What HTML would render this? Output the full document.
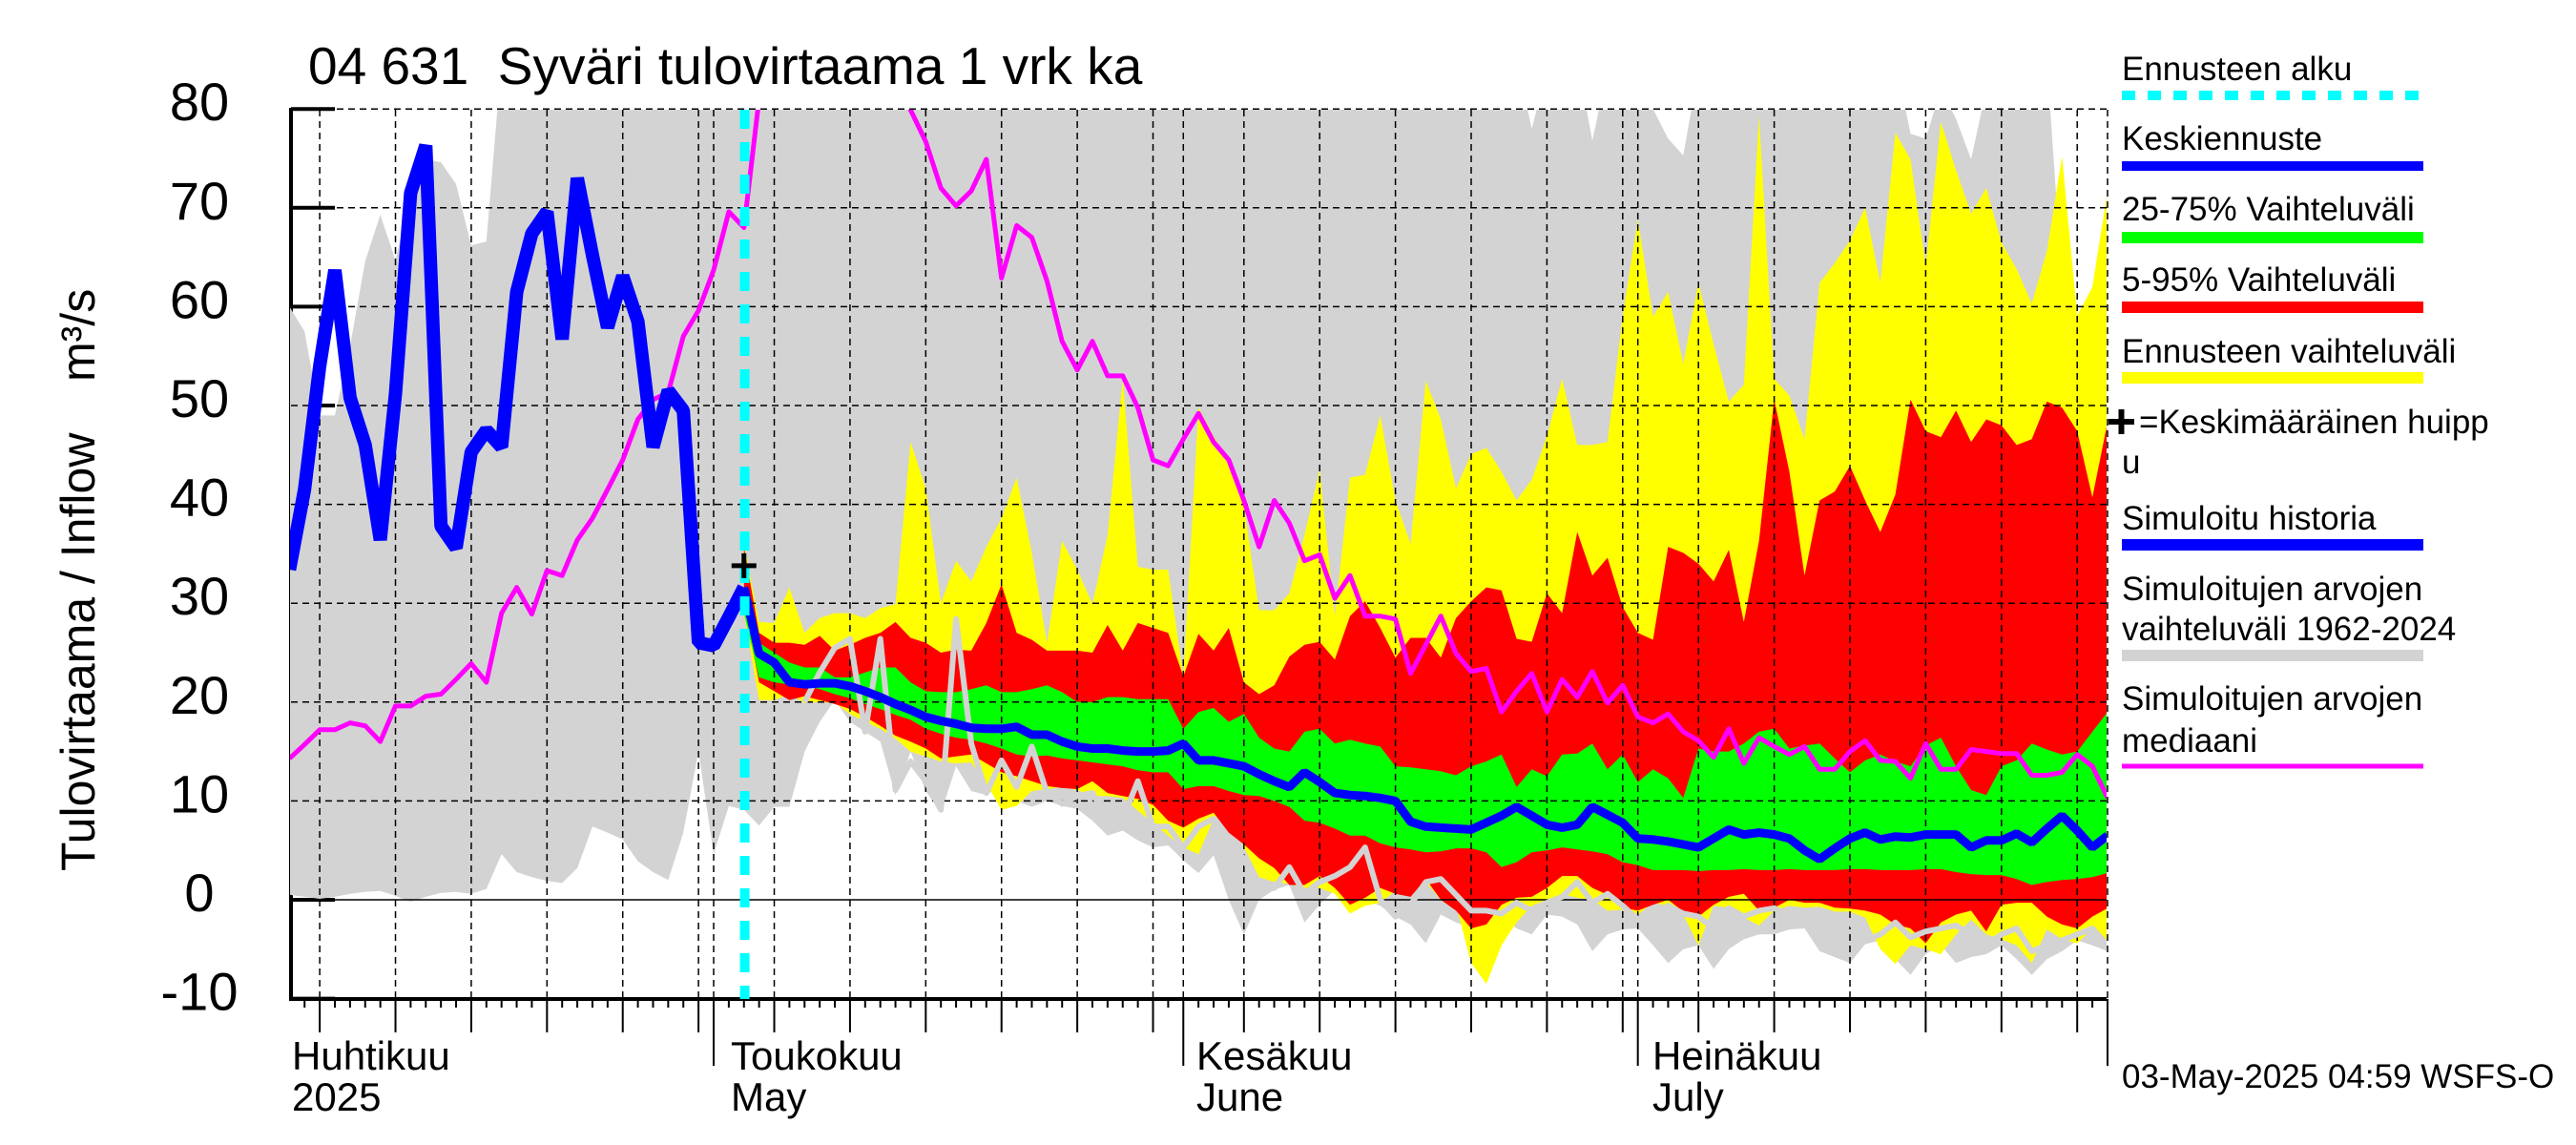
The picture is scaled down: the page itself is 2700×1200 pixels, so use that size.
<!DOCTYPE html>
<html>
<head>
<meta charset="utf-8">
<style>
html,body{margin:0;padding:0;background:#fff;}
svg{display:block;font-family:"Liberation Sans",Arial,sans-serif;}
</style>
</head>
<body>
<svg id="chart" xmlns="http://www.w3.org/2000/svg" width="2700" height="1200" viewBox="0 0 2700 1200">
  <defs>
    <clipPath id="plotclip"><rect x="304" y="115" width="1904" height="932"/></clipPath>
  </defs>
  <rect x="0" y="0" width="2700" height="1200" fill="#fff"/>
  <text x="323" y="88" font-size="55" xml:space="preserve">04 631  Syväri tulovirtaama 1 vrk ka</text>
  <g>
    <text transform="translate(99,913) rotate(-90)" font-size="50">Tulovirtaama / Inflow</text>
    <text transform="translate(99,400) rotate(-90)" font-size="50">m³/s</text>
  </g>
  <g id="axes"></g>
  <g id="fills" clip-path="url(#plotclip)"></g>
  <g id="grid"></g>
  <g id="lines" clip-path="url(#plotclip)"></g>
  <g id="xlabels">
    <text x="306" y="1121" font-size="42">Huhtikuu</text>
    <text x="306" y="1164" font-size="42">2025</text>
    <text x="766" y="1121" font-size="42">Toukokuu</text>
    <text x="766" y="1164" font-size="42">May</text>
    <text x="1254" y="1121" font-size="42">Kesäkuu</text>
    <text x="1254" y="1164" font-size="42">June</text>
    <text x="1732" y="1121" font-size="42">Heinäkuu</text>
    <text x="1732" y="1164" font-size="42">July</text>
  </g>
  <g id="legend" font-size="35">
    <g>
      <text x="2224" y="84">Ennusteen alku</text>
      <line x1="2224" y1="100" x2="2540" y2="100" stroke="#00ffff" stroke-width="10" stroke-dasharray="14 13"/>
    </g>
    <g>
      <text x="2224" y="157">Keskiennuste</text>
      <line x1="2224" y1="174" x2="2540" y2="174" stroke="#0000ff" stroke-width="10"/>
    </g>
    <g>
      <text x="2224" y="231">25-75% Vaihteluväli</text>
      <line x1="2224" y1="249" x2="2540" y2="249" stroke="#00ff00" stroke-width="12"/>
    </g>
    <g>
      <text x="2224" y="305">5-95% Vaihteluväli</text>
      <line x1="2224" y1="322" x2="2540" y2="322" stroke="#ff0000" stroke-width="12"/>
    </g>
    <g>
      <text x="2224" y="380">Ennusteen vaihteluväli</text>
      <line x1="2224" y1="396" x2="2540" y2="396" stroke="#ffff00" stroke-width="12"/>
    </g>
    <g>
      <path d="M2210,442 H2237 M2223.5,429 V455" stroke="#000" stroke-width="6"/>
      <text x="2242" y="454">=Keskimääräinen huipp</text>
      <text x="2224" y="496">u</text>
    </g>
    <g>
      <text x="2224" y="555">Simuloitu historia</text>
      <line x1="2224" y1="571" x2="2540" y2="571" stroke="#0000ff" stroke-width="12"/>
    </g>
    <g>
      <text x="2224" y="629">Simuloitujen arvojen</text>
      <text x="2224" y="671">vaihteluväli 1962-2024</text>
      <line x1="2224" y1="687" x2="2540" y2="687" stroke="#d3d3d3" stroke-width="12"/>
    </g>
    <g>
      <text x="2224" y="744">Simuloitujen arvojen</text>
      <text x="2224" y="788">mediaani</text>
      <line x1="2224" y1="803" x2="2540" y2="803" stroke="#ff00ff" stroke-width="5"/>
    </g>
  </g>
  <text x="2224" y="1140" font-size="35">03-May-2025 04:59 WSFS-O</text>
</svg>
<script>
// ---- data (days since 1 Apr 2025; values in m3/s) ----
const histStart = 2;
const fcStart = 32;
const yTicks = [-10, 0, 10, 20, 30, 40, 50, 60, 70, 80];
const monthStarts = [0, 30, 61, 91, 122];
const gridDays = [4, 9, 14, 19, 24, 29, 34, 39, 44, 49, 54, 59, 65, 70, 75, 80, 85, 90, 95, 100, 105, 110, 115, 120];
const peakDay = [32];
const peakValue = [33.8];

const history = [33.4,41.5,54,63.7,50.8,46,36.4,51.2,71.5,76.3,37.8,35.6,45.3,47.5,45.8,61.5,67.4,69.6,56.7,73,65.2,57.9,63.1,58.5,45.8,51.5,49.5,26,25.7,28.6,31.6];

const median = [14.3,15.7,17.2,17.2,17.9,17.6,16,19.6,19.6,20.6,
20.8,22.3,23.9,22,29,31.6,28.9,33.3,32.8,36.4,
38.6,41.5,44.5,48.6,50.6,51.3,57,59.6,63.7,69.6,
68,81,86,90,93,95,95,93,90,86,
82,79.9,76.7,72,70.2,71.7,74.9,62.9,68.2,67,
62.6,56.5,53.6,56.5,53,53,49.8,44.5,43.9,46.6,
49.2,46.3,44.5,40.4,35.7,40.4,38.1,34.3,34.9,30.5,
32.8,28.7,28.7,28.4,22.9,25.8,28.7,24.9,23.1,23.4,
19,21.1,22.9,19,22.3,20.5,23.1,19.9,21.7,18.5,
17.9,18.8,17,16.1,14.4,17.3,13.8,16.4,15.5,14.7,
15.5,13.2,13.2,15,16.1,14.1,14,12.3,15.8,13.2,
13.2,15.2,15,14.8,14.8,12.6,12.6,12.9,14.7,13.5,10.3];

const grayTop = [60,57.5,49,49,56,64.6,69.3,64.7,71.4,74.9,74.6,72.4,66.2,66.6,
85,85,85,85,85,85,85,85,85,85,85,85,85,85,85,85,85,85,85,85,85,85,85,85,85,85,
85,85,85,85,85,85,85,85,85,85,85,85,85,85,85,85,85,85,85,85,85,85,85,85,85,85,
85,85,85,85,85,85,85,85,85,85,85,85,85,85,85,85,
78,84,84,85,76.8,84,85,85,80,77,75.3,84,
85,85,85,85,85,85,85,85,85,85,85,85,85,
77.5,77,82,79,74.9,82,85,85,85,85];
const grayBottom = [0.5,0.3,0.1,0.3,0.6,0.8,0.9,0.4,-0.2,0.3,
0.7,0.8,0.6,1.1,4.6,2.8,2.3,1.9,1.7,3.2,
7.4,6.8,6.1,3.9,2.8,2,6.8,15,4.6,9.5,
9.1,7.5,9.4,9.4,15,18,20.2,18,17,16,
10.6,15,11,8.8,13.5,11,10.6,11.6,10,9.4,
10,9.5,9.2,8,6.5,7,6,5.3,5.5,4,
2.7,4.5,0,-3.5,0,1,1.5,-2.3,-0.5,1,
-0.5,0,-0.6,-1.7,-2.5,-4.4,-1.5,-2.3,-2.9,-2.6,
-1.7,-2.9,-3.5,-1.5,-1.7,-2.5,-5.2,-3.5,-3,-2.9,
-4.6,-6.4,-5,-4.6,-7,-5,-4,-3.5,-3.5,-3,
-2.9,-5.2,-5.8,-6.4,-4.5,-4.1,-6,-7.6,-5.5,-4.6,
-6.4,-5.8,-5.5,-4.6,-6,-7.6,-6,-5.2,-4.1,-4.6,-5.2];

const ensMax = [36,28.1,28,31.6,27,28.5,29,29,28.5,29.5,
29.9,46.3,41.6,30,34.3,32.2,35.7,38.6,42.7,35.1,
26,36.3,33.4,29.9,36.9,52.7,33.7,33.4,33.4,22.6,
49.8,46.9,44.5,39.8,29.3,29.3,31,36.9,43.5,28.7,
42.7,43,49,40.4,36,52.5,48.6,41.6,45.1,45.7,
43.3,40.4,42.5,46.9,52.7,46,46,46.3,59.1,68.8,
59,61.5,54.2,62.4,56.2,50.4,52.1,79.3,52.7,51,
46.6,62.4,64.4,66.7,70,62.4,77.6,74.9,64.1,78.7,
73.8,69.4,72,66.5,63.8,60.3,65.6,75.2,59.1,62,71.7];
const ensMin = [29,20.2,20.2,20.8,19.9,20,19.9,18.8,18,17.3,
16.3,15,14.5,14,13.8,13.9,11.8,9.1,9.5,11,
11.2,11.4,11.1,10.5,10.5,10.3,9,7.8,6.5,5.3,
4.6,8.2,8.8,5.3,2.3,1.8,1.6,1.2,1.2,0.6,
-1.4,-0.6,-0.3,0.9,1.8,1.8,0,-0.5,-6.4,-8.5,
-4.6,-2.3,-0.6,0,0.6,0.2,0,-1.1,-1,-1.5,
-0.3,-0.6,-1.5,-4.6,-0.6,-0.8,-1.8,-2.6,-1.1,-0.6,
-0.8,-0.7,-1.2,-1.2,-1.8,-5,-6.5,-4.6,-5,-5.5,
-3.5,-2,-3.5,-4,-4.6,-6.4,-3,-4,-4.4,-2.9,-4.1];

const p95 = [35.7,27,26,26,25.8,26.7,25.2,25.8,26.5,27,
28.1,26.5,26,25,25.3,25.2,28,31.9,27,26.3,
25.2,25.2,25.2,25,27.8,25.2,28,27.5,27,22.6,
26.9,25.2,27.5,22,20.8,21.7,24.6,25.8,26.1,24.3,
28.7,30.2,27.5,24.5,26.5,26.5,24.5,28.5,30.2,31.6,
31.3,26.4,26.1,31,29,37.2,32.8,34.6,29.6,27,
26.3,35.7,35.1,34,32.2,35.4,28.1,36.3,50.6,43.3,
32.8,40.4,41.3,43.9,40.4,37.2,41,50.6,47.4,46.8,
49.5,46.3,48.6,48,46,46.6,50.4,49.8,47.4,40.7,48.3];
const p5 = [30,22,21.1,20.2,20.6,20.2,19.8,19.3,18.5,17.6,
16.6,16,15.3,14.3,14.5,14.7,13.8,12.9,12.5,12,
11.5,11.3,11.2,12,10.8,10.5,10.2,9.6,8,7.3,
8.2,8.8,6.8,5.6,4.2,3.2,1.5,1.5,2.4,1.2,
-0.5,0.2,1.2,0.6,0.3,2.1,0,-1.1,-2.9,-2.5,
-0.5,0.2,0.3,1.2,2.4,2.4,1.2,0.5,-0.8,-1.1,
-0.5,0,-1.2,-1.7,-0.5,0.3,0.6,-1.1,-0.8,0,
-0.3,-0.3,-0.8,-0.9,-1.1,-1.5,-2.5,-2.9,-4.4,-2.3,
-1.5,-1.1,-3.2,-0.5,-0.3,-0.3,-1.7,-2.5,-2.9,-1.7,-0.85];

const p75 = [31,26,25,24,23.5,23.5,22.5,22.5,23,23.5,
23.5,22,21.1,21,21,21.3,21.7,21,21,21.3,
21.7,21,20,20,20.5,20.5,20.3,20.3,20.3,17.3,
19,19.4,18,18.8,16.4,15.3,15,17,17.3,15.8,
16.2,15.8,15.5,13.5,13.4,13.2,13,12.6,13.5,14,
14.7,11.4,13.2,12.5,14.7,14.8,15.8,13.2,14.7,11.9,
13.2,12.3,10.3,15.3,15,15,15.8,17,17.3,15.3,
15.6,15.8,14.3,12.9,14.1,14.7,14,13.5,15.6,16.4,
13.5,11.1,10.6,13.5,14.1,15.8,15.2,14.7,15,17,19];
const p25 = [29,22.5,22,21.8,21.7,21.3,20.8,20.4,19.8,19.3,
18.7,18.2,17.3,16.8,16.4,16.2,15.8,15.3,14.7,14.5,
14.6,14.3,14.1,13.9,13.7,13.5,13.1,12.9,12.9,11.2,
11.5,11.5,11,10.6,10.5,10,9.4,8,7.8,7.2,
6.5,6.5,5.7,5.3,5.1,4.8,4.9,5.2,5.2,4.8,
3.3,3.8,4.8,5,5.3,5.1,4.9,4.6,3.8,3.5,
3,3,3,2.9,3,3,3.1,3,3,3.1,
3,3,3,3.1,3.1,3,3,3,3.1,3.1,
2.8,2.6,2.5,2.5,2.1,1.5,1.8,2,2.1,2.3,2.7];

const meanForecast = [31.6,24.9,24,22,21.8,21.9,21.9,21.6,21.1,20.5,
19.8,19.2,18.5,18.1,17.8,17.4,17.3,17.3,17.5,16.7,
16.7,16,15.5,15.3,15.3,15.1,15,15,15.1,15.8,
14.1,14.1,13.8,13.5,12.7,12,11.4,12.9,11.9,10.8,
10.6,10.5,10.3,10,7.9,7.4,7.3,7.2,7.1,7.8,
8.5,9.4,8.5,7.6,7.3,7.6,9.4,8.6,7.8,6.2,
6.1,5.9,5.6,5.3,6.2,7.1,6.6,6.8,6.6,6.2,
5,4.1,5.2,6.2,6.8,6.1,6.4,6.3,6.6,6.6,
6.6,5.3,6,6,6.7,5.8,7.2,8.5,7,5.3,6.5];

const pastYearStart = 36;
const pastYear = [20,23,25.5,26.4,17,26.4,11.1,14,12,9.1,
28.4,15.8,10.8,14.1,11.4,15.5,10.8,9.7,10.5,10.8,
8.2,8.2,12,7.4,7.4,5.3,7.4,8.2,6,4.1,
1.2,1.2,3.3,0.6,1.8,2.4,3.3,5.3,0,-1.7,
-0.5,1.8,2.1,0.5,-1.1,-1.1,-1.4,-0.3,-1.1,-0.3,
0.3,1.8,-0.3,0.6,-0.6,-2,-1.7,-0.6,-1.4,-1.7,
-2.9,-0.85,-1.7,-1.1,-0.85,-1.7,-1.7,-2.9,-1.7,-2.3,
-4.1,-3.5,-2.3,-3.8,-3.2,-2.9,-2.6,-3.5,-4.6,-3.5,
-2.9,-5.2,-4.6,-4.1,-3.5,-2.9,-4.6];

// ---- scales ----
const PX_PER_DAY = 15.88, X0 = 271.6, Y0 = 943, PX_PER_UNIT = 10.36;
const PLOT_L = 305, PLOT_R = 2208, PLOT_T = 115, PLOT_B = 1047;
function xScale(d){ return X0 + PX_PER_DAY * d; }
function yScale(v){ return Y0 - PX_PER_UNIT * v; }

const NS = 'http://www.w3.org/2000/svg';
function mk(tag, attrs, parent){
  const el = document.createElementNS(NS, tag);
  for (const k in attrs) el.setAttribute(k, attrs[k]);
  parent.appendChild(el);
  return el;
}
function pts(arr, start){
  return arr.map((v,i)=> xScale(start+i).toFixed(1)+','+yScale(v).toFixed(1));
}
function bandPath(top, bottom, start){
  const t = pts(top, start);
  const b = pts(bottom, start).reverse();
  return 'M' + t.join(' L') + ' L' + b.join(' L') + ' Z';
}
function linePath(arr, start){
  return 'M' + pts(arr, start).join(' L');
}

const axes = document.getElementById('axes');
const fills = document.getElementById('fills');
const grid = document.getElementById('grid');
const lines = document.getElementById('lines');

// ---- axes (drawn beneath bands, as in reference) ----
const yAxis = mk('line', {x1:PLOT_L, y1:PLOT_T-2, x2:PLOT_L, y2:PLOT_B+2, stroke:'#000','stroke-width':4}, axes);


yTicks.forEach(v=>{
  const t = mk('line', {x1:PLOT_L, y1:yScale(v), x2:PLOT_L+46, y2:yScale(v), stroke:'#000','stroke-width':4}, axes);
  
  
  const lb = mk('text', {x:209, y:yScale(v)+12, 'font-size':56, 'text-anchor':'middle'}, axes);
  lb.textContent = String(v);
  
  
});

// ---- bands ----
const gBand = mk('path', {d:bandPath(grayTop, grayBottom, histStart), fill:'#d3d3d3'}, fills);


const yBand = mk('path', {d:bandPath(ensMax, ensMin, fcStart), fill:'#ffff00'}, fills);


const rBand = mk('path', {d:bandPath(p95, p5, fcStart), fill:'#ff0000'}, fills);


const grBand = mk('path', {d:bandPath(p75, p25, fcStart), fill:'#00ff00'}, fills);



// ---- grid ----
yTicks.forEach(v=>{
  if (v === -10) return;
  const g = mk('line', {x1:PLOT_L, y1:yScale(v), x2:PLOT_R, y2:yScale(v), stroke:'#000','stroke-width':1.5,'stroke-dasharray': v===0 ? 'none' : '7 5'}, grid);
  
  
});
gridDays.concat(monthStarts.slice(1)).forEach(d=>{
  const g = mk('line', {x1:xScale(d), y1:PLOT_T, x2:xScale(d), y2:PLOT_B, stroke:'#000','stroke-width':1.5,'stroke-dasharray':'7 5'}, grid);
  
  
});
// x ticks
for (let d = histStart + 1; d <= 122; d++){
  let len = 9;
  if (gridDays.indexOf(d) >= 0) len = 35;
  if (monthStarts.indexOf(d) >= 0) len = 70;
  const t = mk('line', {x1:xScale(d), y1:PLOT_B, x2:xScale(d), y2:PLOT_B+len, stroke:'#000','stroke-width':2}, axes);
  
  
}

// ---- lines ----
const pastLine = mk('path', {d:linePath(pastYear, pastYearStart), fill:'none', stroke:'#d3d3d3','stroke-width':6,'stroke-linejoin':'round'}, lines);


const medLine = mk('path', {d:linePath(median, histStart), fill:'none', stroke:'#ff00ff','stroke-width':5,'stroke-linejoin':'round'}, lines);


const histLine = mk('path', {d:linePath(history, histStart), fill:'none', stroke:'#0000ff','stroke-width':14,'stroke-linejoin':'bevel'}, lines);


const meanLine = mk('path', {d:linePath(meanForecast, fcStart), fill:'none', stroke:'#0000ff','stroke-width':9,'stroke-linejoin':'bevel'}, lines);



const cyan = mk('line', {x1:xScale(fcStart)+0.8, y1:PLOT_T, x2:xScale(fcStart)+0.8, y2:PLOT_B, stroke:'#00ffff','stroke-width':10,'stroke-dasharray':'20 14'}, lines);



const px = xScale(peakDay[0]), py = yScale(peakValue[0]);
const peak = mk('path', {d:`M${px-13},${py} H${px+13} M${px},${py-13} V${py+13}`, stroke:'#000','stroke-width':5}, lines);



const xAxis = mk('line', {x1:PLOT_L-2, y1:PLOT_B, x2:PLOT_R, y2:PLOT_B, stroke:'#000','stroke-width':4}, axes);


</script>
</body>
</html>
